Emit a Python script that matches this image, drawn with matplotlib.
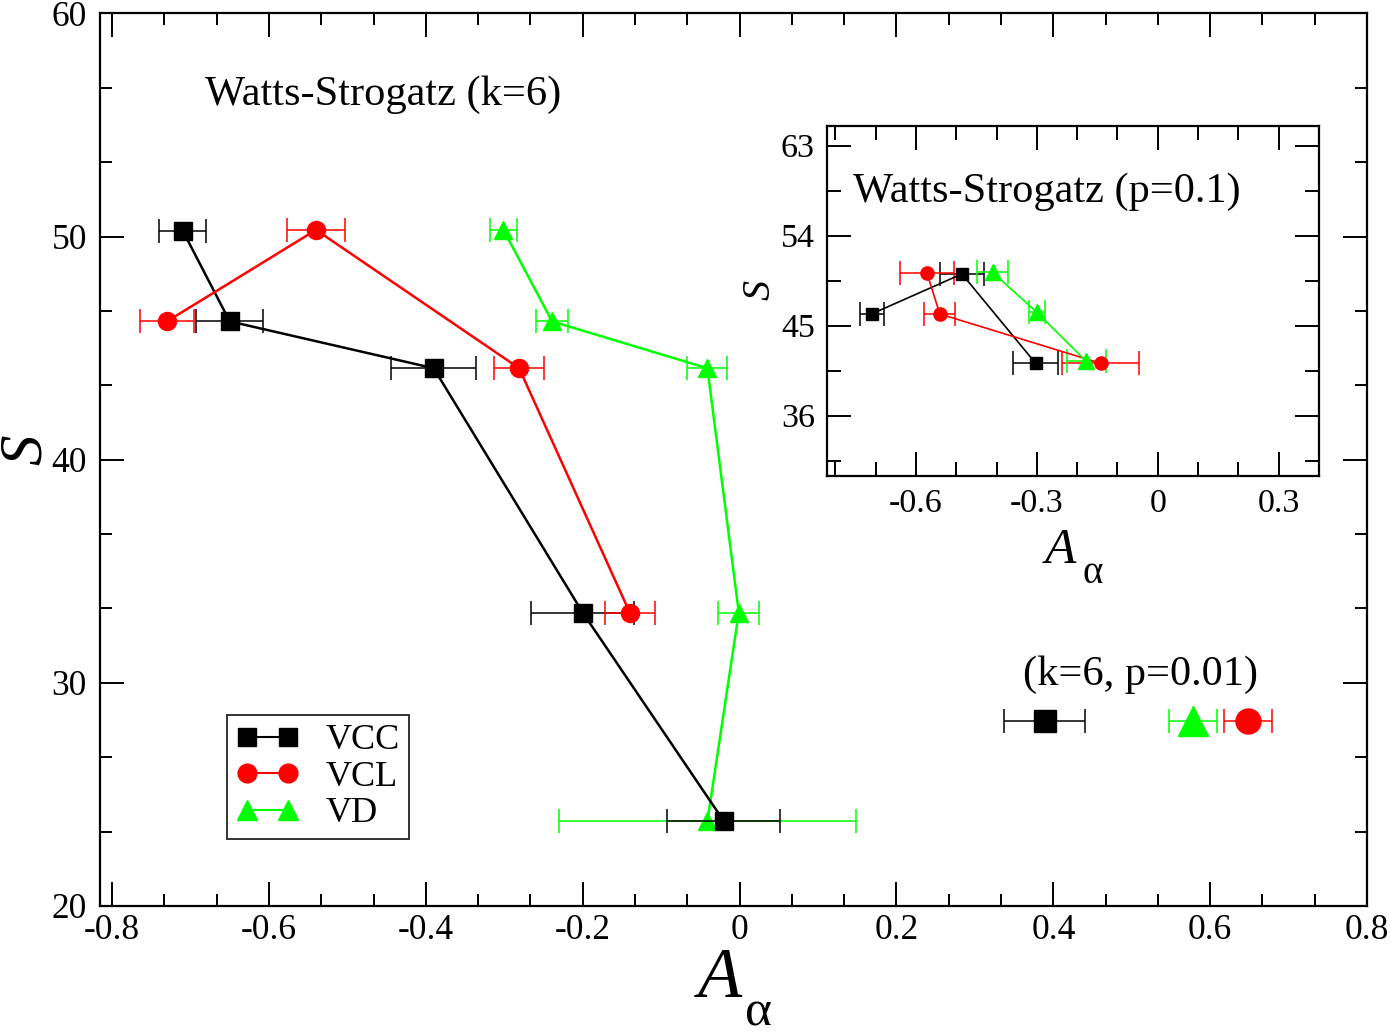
import matplotlib
matplotlib.use("Agg")
import matplotlib.pyplot as plt
from matplotlib.lines import Line2D
from matplotlib.ticker import AutoMinorLocator, FuncFormatter
import numpy as np

plt.rcParams['font.family'] = ['Liberation Serif', 'DejaVu Serif']
plt.rcParams['axes.unicode_minus'] = False

# ---------------- main panel data (Watts-Strogatz k=6) ----------------
vcc_x = [-0.710, -0.650, -0.390, -0.200, -0.020]
vcc_y = [50.27, 46.2, 44.1, 33.15, 23.8]
vcc_err = [0.030, 0.043, 0.054, 0.066, 0.072]

vcl_x = [-0.730, -0.540, -0.281, -0.140]
vcl_y = [46.2, 50.3, 44.1, 33.15]
vcl_err = [0.035, 0.0375, 0.0315, 0.032]

vd_x = [-0.301, -0.239, -0.041, -0.001, -0.041]
vd_y = [50.3, 46.2, 44.1, 33.15, 23.8]
vd_err = [0.017, 0.020, 0.0255, 0.026, 0.189]

# (k=6, p=0.01) single points
p001_vcc = (0.389, 28.3, 0.0516)
p001_vd = (0.578, 28.3, 0.031)
p001_vcl = (0.648, 28.3, 0.031)

# ---------------- inset data (Watts-Strogatz p=0.1) ----------------
in_vcc_x = [-0.710, -0.486, -0.303]
in_vcc_y = [46.17, 50.17, 41.23]
in_vcc_err = [0.030, 0.055, 0.056]

in_vcl_x = [-0.5725, -0.541, -0.142]
in_vcl_y = [50.23, 46.17, 41.23]
in_vcl_err = [0.068, 0.038, 0.095]

in_vd_x = [-0.410, -0.300, -0.1775]
in_vd_y = [50.33, 46.33, 41.43]
in_vd_err = [0.039, 0.019, 0.048]

main_xticks = [-0.8, -0.6, -0.4, -0.2, 0.0, 0.2, 0.4, 0.6, 0.8]
main_yticks = [20, 30, 40, 50, 60]
inset_xticks = [-0.6, -0.3, 0.0, 0.3]
inset_yticks = [36, 45, 54, 63]

BLACK = '#000000'
RED = '#ff0000'
GREEN = '#00ff00'

W, H = 1390, 1034
fmt = FuncFormatter(lambda v, p: '%g' % round(v, 6))


def ftext(px, py, s, **kw):
    """Place figure text using pixel coordinates measured from top-left."""
    fig.text(px / W, 1 - py / H, s, **kw)


fig = plt.figure(figsize=(13.9, 10.34), dpi=100)
ax = fig.add_axes([0.0716, 0.1238, 0.9119, 0.8632])

cap = 8.6
elw = 1.1
lw_main = 1.8

ax.errorbar(vcc_x, vcc_y, xerr=vcc_err, fmt='-s', color=BLACK, ms=12.5,
            lw=lw_main, elinewidth=elw, capsize=cap, capthick=elw, zorder=3)
ax.errorbar(vcl_x, vcl_y, xerr=vcl_err, fmt='-o', color=RED, ms=13,
            lw=lw_main, elinewidth=elw, capsize=cap, capthick=elw, zorder=3)
ax.errorbar(vd_x, vd_y, xerr=vd_err, fmt='-^', color=GREEN, ms=13.5,
            lw=lw_main, elinewidth=elw, capsize=cap, capthick=elw, zorder=2)

for (px, py, pe), mk, col, ms in [(p001_vcc, 's', BLACK, 16),
                                  (p001_vd, '^', GREEN, 21),
                                  (p001_vcl, 'o', RED, 18)]:
    ax.errorbar([px], [py], xerr=[pe], fmt=mk, color=col, ms=ms,
                elinewidth=elw, capsize=cap, capthick=elw)

ax.set_xlim(-0.816, 0.8)
ax.set_ylim(20, 60)
ax.set_xticks(main_xticks)
ax.set_yticks(main_yticks)
ax.xaxis.set_major_formatter(fmt)
ax.yaxis.set_major_formatter(fmt)
ax.xaxis.set_minor_locator(AutoMinorLocator(3))
ax.yaxis.set_minor_locator(AutoMinorLocator(3))
ax.tick_params(which='both', direction='in', top=True, right=True, width=1.4)
ax.tick_params(which='major', length=17, labelsize=25.5, pad=6)
ax.tick_params(which='minor', length=8.5)
ax.tick_params(axis='y', which='major', pad=9)
for s in ax.spines.values():
    s.set_linewidth(1.6)

# main axis labels: A (italic) with subscript alpha, and S
ftext(698, 997, 'A', fontsize=52, fontstyle='italic', ha='left', va='baseline')
ftext(745, 1025, 'α', fontsize=37, ha='left', va='baseline')
ax.text(-0.058, 0.511, 'S', fontsize=44, fontstyle='italic', rotation=90,
        ha='center', va='center', transform=ax.transAxes)

ax.text(0.0832, 0.9087, 'Watts-Strogatz (k=6)', fontsize=30.5,
        ha='left', va='center', transform=ax.transAxes)
ax.text(0.821, 0.259, '(k=6, p=0.01)', fontsize=30.5,
        ha='center', va='center', transform=ax.transAxes)

handles = [
    Line2D([], [], color=BLACK, marker='s', ms=13, lw=1.5),
    Line2D([], [], color=RED, marker='o', ms=13.5, lw=1.5),
    Line2D([], [], color=GREEN, marker='^', ms=14, lw=1.5),
]
leg = ax.legend(handles, ['VCC', 'VCL', 'VD'], loc='upper left',
                bbox_to_anchor=(0.1004, 0.214), borderaxespad=0,
                numpoints=2, fontsize=26, frameon=True, fancybox=False,
                handlelength=1.75, handletextpad=0.75, borderpad=0.25,
                labelspacing=0.09)
leg.get_frame().set_edgecolor('black')
leg.get_frame().set_linewidth(1.4)

# ---------------- inset ----------------
ax2 = fig.add_axes([0.5952, 0.540, 0.3537, 0.3385])
ax2.set_zorder(5)
lw_in = 1.2
ms_in = 9
ax2.errorbar(in_vcc_x, in_vcc_y, xerr=in_vcc_err, fmt='-s', color=BLACK, ms=ms_in,
             lw=lw_in, elinewidth=elw, capsize=cap, capthick=elw)
ax2.errorbar(in_vcl_x, in_vcl_y, xerr=in_vcl_err, fmt='-o', color=RED, ms=ms_in + 0.5,
             lw=lw_in, elinewidth=elw, capsize=cap, capthick=elw)
ax2.errorbar(in_vd_x, in_vd_y, xerr=in_vd_err, fmt='-^', color=GREEN, ms=ms_in + 2,
             lw=lw_in, elinewidth=elw, capsize=cap, capthick=elw)
ax2.set_xlim(-0.82, 0.4)
ax2.set_ylim(30, 65)
ax2.set_xticks(inset_xticks)
ax2.set_yticks(inset_yticks)
ax2.xaxis.set_major_formatter(fmt)
ax2.yaxis.set_major_formatter(fmt)
ax2.xaxis.set_minor_locator(AutoMinorLocator(3))
ax2.yaxis.set_minor_locator(AutoMinorLocator(2))
ax2.tick_params(which='both', direction='in', top=True, right=True, width=1.4)
ax2.tick_params(which='major', length=17, labelsize=24.5, pad=9)
ax2.tick_params(which='minor', length=10)
for s in ax2.spines.values():
    s.set_linewidth(1.6)
ftext(1045, 563, 'A', fontsize=37, fontstyle='italic', ha='left', va='baseline')
ftext(1082, 583, 'α', fontsize=28, ha='left', va='baseline')
ax2.text(-0.137, 0.53, 'S', fontsize=29, fontstyle='italic', rotation=90,
         ha='center', va='center', transform=ax2.transAxes)
ax2.text(0.052, 0.811, 'Watts-Strogatz (p=0.1)', fontsize=30.5,
         ha='left', va='center', transform=ax2.transAxes)

fig.savefig('out.png', dpi=100)
